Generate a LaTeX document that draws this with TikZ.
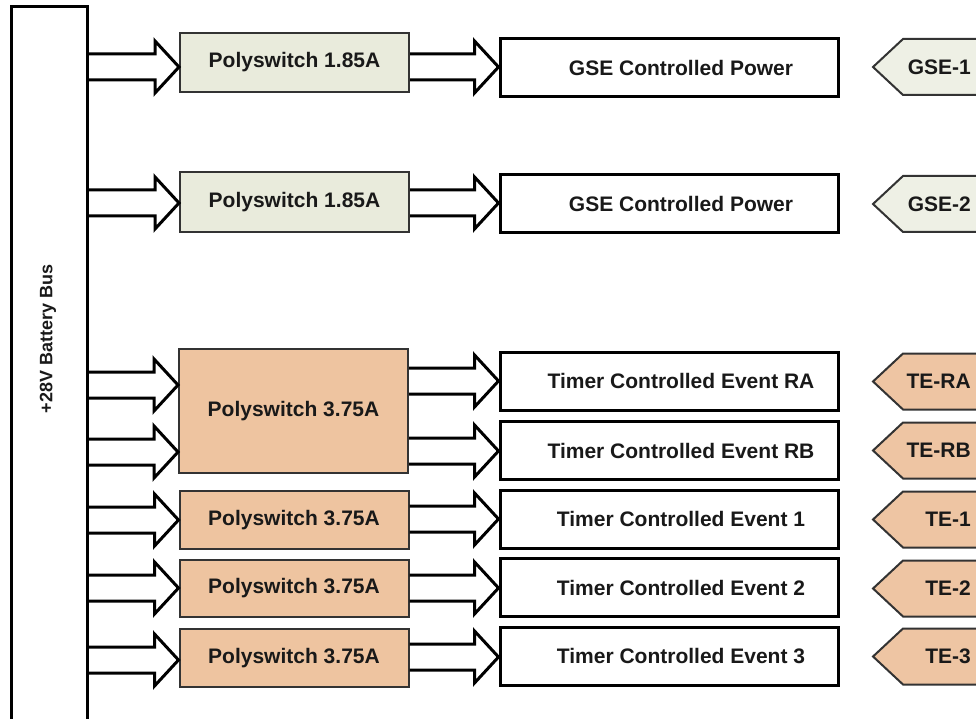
\documentclass[tikz,border=0pt]{standalone}
\usepackage{fontspec}
\setmainfont{Liberation Sans}
\usetikzlibrary{calc}
\definecolor{psgreen}{RGB}{233,235,220}
\definecolor{taggreen}{RGB}{238,240,229}
\definecolor{psorange}{RGB}{238,196,160}
\definecolor{tagorange}{RGB}{238,197,163}
\tikzset{
  lbl/.style={font=\bfseries\fontsize{21}{24}\selectfont, text=black!90, inner sep=0pt},
  psbox/.style={draw=black!80, line width=2pt, lbl, minimum width=229pt},
  whitebox/.style={draw=black, line width=3pt, fill=white, lbl, minimum width=338pt, minimum height=58pt,
    execute at begin node=\hspace*{24pt}},
  barrow/.style={draw=black, line width=3pt, line join=miter},
  tagshape/.style={draw=black!80, line width=2pt, line join=miter},
  busline/.style={draw=black, line width=3pt},
}
\newcommand\blockarrow[3]{%
  \path (#1.east |- 0,#3) coordinate (ta) (#2.west |- 0,#3) coordinate (tb);
  \draw[barrow] ($(ta)+(0,13)$) -- ($(tb)+(-24,13)$) -- ($(tb)+(-24,26)$) -- (tb)
     -- ($(tb)+(-24,-26)$) -- ($(tb)+(-24,-13)$) -- ($(ta)+(0,-13)$);}
\newcommand\tagbox[4]{%
  \draw[tagshape, fill=#3] (1000,{#2-28}) -- (903,{#2-28}) -- (873,#2) -- (903,{#2+28}) -- (1000,{#2+28});
  \node[lbl, anchor=east] (#1) at (971,#2) {#4};}
\begin{document}
\begin{tikzpicture}[x=1pt,y=-1pt]
\useasboundingbox (0,0) rectangle (976,719);
\clip (0,0) rectangle (976,719);
% bus
\node[minimum width=75pt, minimum height=760pt, inner sep=0pt] (bus) at (49.5,387) {};
\draw[busline] (bus.south west) -- (bus.north west) -- (bus.north east) -- (bus.south east);
\node[lbl, rotate=90, font=\bfseries\fontsize{18}{22}\selectfont] (buslabel) at (48,339) {+28V Battery Bus};
% polyswitches
\node[psbox, fill=psgreen, minimum height=59pt] (ps1) at (294.5,62.5) {Polyswitch 1.85A};
\node[psbox, fill=psgreen, minimum height=60pt] (ps2) at (294.5,202) {Polyswitch 1.85A};
\node[psbox, fill=psorange, minimum height=124pt] (psb) at (293.5,411) {Polyswitch 3.75A};
\node[psbox, fill=psorange, minimum height=58pt] (ps3) at (294,520) {Polyswitch 3.75A};
\node[psbox, fill=psorange, minimum height=57pt] (ps4) at (294,588.5) {Polyswitch 3.75A};
\node[psbox, fill=psorange, minimum height=58pt] (ps5) at (294,658) {Polyswitch 3.75A};
% white boxes
\node[whitebox] (g1) at (669,67.5) {GSE Controlled Power};
\node[whitebox] (g2) at (669,204) {GSE Controlled Power};
\node[whitebox] (ra) at (669,381) {Timer Controlled Event RA};
\node[whitebox] (rb) at (669,450.5) {Timer Controlled Event RB};
\node[whitebox] (e1) at (669,519) {Timer Controlled Event 1};
\node[whitebox] (e2) at (669,587.5) {Timer Controlled Event 2};
\node[whitebox] (e3) at (669,656.5) {Timer Controlled Event 3};
% arrows bus -> polyswitch
\blockarrow{bus}{ps1}{67}
\blockarrow{bus}{ps2}{203}
\blockarrow{bus}{psb}{385}
\blockarrow{bus}{psb}{452}
\blockarrow{bus}{ps3}{520}
\blockarrow{bus}{ps4}{588}
\blockarrow{bus}{ps5}{660}
% arrows polyswitch -> boxes
\blockarrow{ps1}{g1}{67}
\blockarrow{ps2}{g2}{203}
\blockarrow{psb}{ra}{381}
\blockarrow{psb}{rb}{451}
\blockarrow{ps3}{e1}{519}
\blockarrow{ps4}{e2}{588}
\blockarrow{ps5}{e3}{657}
% tags
\tagbox{t1}{67}{taggreen}{GSE-1}
\tagbox{t2}{204}{taggreen}{GSE-2}
\tagbox{tra}{381.5}{tagorange}{TE-RA}
\tagbox{trb}{450.5}{tagorange}{TE-RB}
\tagbox{te1}{519.5}{tagorange}{TE-1}
\tagbox{te2}{588.5}{tagorange}{TE-2}
\tagbox{te3}{656.5}{tagorange}{TE-3}
\end{tikzpicture}
\end{document}
